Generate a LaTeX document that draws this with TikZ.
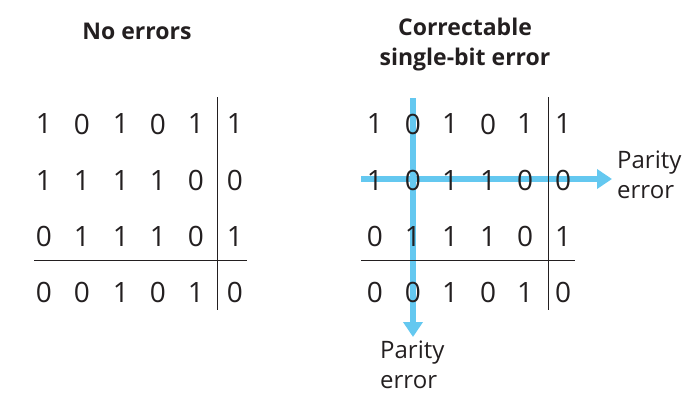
\documentclass[tikz,border=0pt]{standalone}
\usepackage{fontspec}
\setmainfont{Open Sans}
\usetikzlibrary{arrows.meta}
\definecolor{parblue}{RGB}{100,200,240}
\definecolor{ink}{RGB}{35,31,32}
\begin{document}
\begin{tikzpicture}[x=1pt,y=-1pt,
  bit/.style={font=\fontsize{28}{30}\selectfont, text=ink, inner sep=0pt, anchor=center},
  ttl/.style={font=\bfseries\fontsize{23}{30}\selectfont, text=ink, align=center, inner sep=0pt},
  lbl/.style={font=\fontsize{24}{30}\selectfont, text=ink, align=left, inner sep=0pt},
  rule/.style={draw=ink, line width=1pt},
  parity/.style={draw=parblue, line width=6pt, -{Triangle[width=19pt,length=15pt]}}]
\useasboundingbox (0,0) rectangle (696,408);
% titles
\node[ttl] (t1) at (137,31) {No errors};
\node[ttl] (t2) at (465,45) {Correctable\\single-bit error};
% parity arrows (behind digits)
\coordinate (vs) at (413,98);
\coordinate (ve) at (413,337);
\coordinate (hs) at (361,179);
\coordinate (he) at (612,179);
\draw[parity] (vs) -- (ve);
\draw[parity] (hs) -- (he);
% left grid
\foreach \row [count=\r] in {{1,0,1,0,1,1},{1,1,1,1,0,0},{0,1,1,1,0,1},{0,0,1,0,1,0}} {
  \foreach \b [count=\c] in \row {
    \pgfmathsetmacro{\yy}{124+(\r-1)*56}
    \pgfmathsetmacro{\xl}{{0,44,82,121,158,196,235}[\c]}
    \node[bit] (L\r\c) at (\xl,\yy) {\b};
  }
}
\foreach \row [count=\r] in {{1,0,1,0,1,1},{1,0,1,1,0,0},{0,1,1,1,0,1},{0,0,1,0,1,0}} {
  \foreach \b [count=\c] in \row {
    \pgfmathsetmacro{\yy}{124+(\r-1)*56}
    \pgfmathsetmacro{\xr}{{0,375,413,450,488,525,563}[\c]}
    \node[bit] (R\r\c) at (\xr,\yy) {\b};
  }
}
% rules
\coordinate (lv1) at (217,97); \coordinate (lv2) at (217,310);
\coordinate (lh1) at (34,260); \coordinate (lh2) at (247,260);
\draw[rule] (lv1) -- (lv2);
\draw[rule] (lh1) -- (lh2);
\coordinate (rv1) at (548,97); \coordinate (rv2) at (548,310);
\coordinate (rh1) at (361,260); \coordinate (rh2) at (575,260);
\draw[rule] (rv1) -- (rv2);
\draw[rule] (rh1) -- (rh2);
% labels
\node[lbl, anchor=west] (pe1) at (617,175) {Parity\\error};
\node[lbl, anchor=west] (pe2) at (380,365) {Parity\\error};
\end{tikzpicture}
\end{document}
